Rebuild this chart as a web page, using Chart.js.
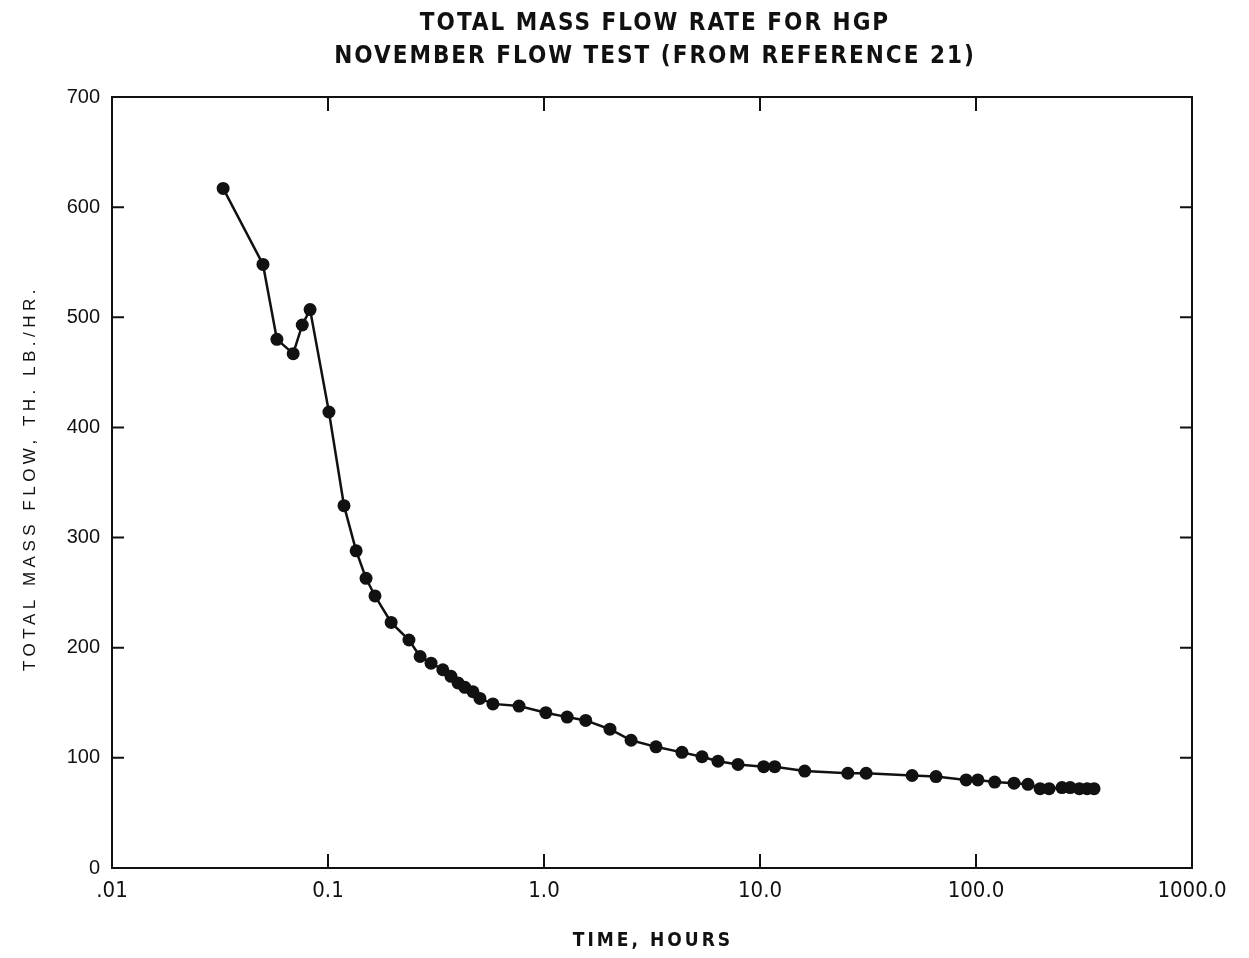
<!DOCTYPE html>
<html>
<head>
<meta charset="utf-8">
<title>Total Mass Flow Rate for HGP</title>
<script src="https://cdn.jsdelivr.net/npm/chart.js@4.4.1/dist/chart.umd.min.js"></script>
<style>
  html, body { margin: 0; padding: 0; background: #ffffff; }
  #wrap { width: 1249px; height: 958px; position: relative; }
</style>
</head>
<body>
<div id="wrap"><canvas id="flowChart"></canvas></div>
<script>
// hours since start of flow
const timeHours = [
  0.0327, 0.050, 0.058, 0.069, 0.076, 0.0826, 0.101, 0.1186, 0.135, 0.150,
  0.165, 0.196, 0.237, 0.267, 0.300, 0.340, 0.371, 0.400, 0.430, 0.469,
  0.505, 0.580, 0.766, 1.02, 1.28, 1.56, 2.02, 2.53, 3.30, 4.35,
  5.39, 6.39, 7.91, 10.4, 11.7, 16.1, 25.5, 31.0, 50.6, 65.3,
  90, 102, 122, 150, 174, 198, 218, 250, 273, 301,
  327, 352
];
// total mass flow, thousand lb/hr
const massFlow = [
  617, 548, 480, 467, 493, 507, 414, 329, 288, 263,
  247, 223, 207, 192, 186, 180, 174, 168, 164, 160,
  154, 149, 147, 141, 137, 134, 126, 116, 110, 105,
  101, 97, 94, 92, 92, 88, 86, 86, 84, 83,
  80, 80, 78, 77, 76, 72, 72, 73, 73, 72,
  72, 72
];
const xTickValues = [0.01, 0.1, 1, 10, 100, 1000];
const xTickLabels = ['.01', '0.1', '1.0', '10.0', '100.0', '1000.0'];
const titleLines = ['TOTAL MASS FLOW RATE FOR HGP', 'NOVEMBER FLOW TEST (FROM REFERENCE 21)'];
const xAxisTitle = 'TIME, HOURS';
const yAxisTitle = 'TOTAL MASS FLOW, TH. LB./HR.';

(function () {
  const canvas = document.getElementById('flowChart');
  const ink = '#111111';

  const points = timeHours.map(function (t, i) {
    return { x: t, y: massFlow[i] };
  });

  // frame, inward ticks and the hand lettered texts
  const plotDecor = {
    id: 'plotDecor',
    afterDraw(chart) {
      const { ctx, chartArea } = chart;
      const xScale = chart.scales.x;
      const yScale = chart.scales.y;

      ctx.save();
      ctx.strokeStyle = ink;
      ctx.lineWidth = 2;
      ctx.strokeRect(chartArea.left, chartArea.top, chartArea.right - chartArea.left, chartArea.bottom - chartArea.top);

      ctx.beginPath();
      xTickValues.slice(1, -1).forEach(function (v) {
        const x = xScale.getPixelForValue(v);
        ctx.moveTo(x, chartArea.bottom);
        ctx.lineTo(x, chartArea.bottom - 14);
        ctx.moveTo(x, chartArea.top);
        ctx.lineTo(x, chartArea.top + 14);
      });
      for (let v = 100; v < 700; v += 100) {
        const y = yScale.getPixelForValue(v);
        ctx.moveTo(chartArea.left, y);
        ctx.lineTo(chartArea.left + 12, y);
        ctx.moveTo(chartArea.right, y);
        ctx.lineTo(chartArea.right - 12, y);
      }
      ctx.stroke();

      ctx.fillStyle = ink;
      ctx.textAlign = 'center';
      ctx.textBaseline = 'middle';
      ctx.font = '600 24px "Liberation Sans Narrow", "DejaVu Sans Condensed", sans-serif';
      ctx.letterSpacing = '2px';
      ctx.fillText(titleLines[0], 655, 24);
      ctx.fillText(titleLines[1], 655, 57);

      ctx.font = 'bold 19px "Liberation Sans Narrow", "DejaVu Sans Condensed", sans-serif';
      ctx.letterSpacing = '3px';
      ctx.fillText(xAxisTitle, 653, 941);

      ctx.translate(30, 478);
      ctx.rotate(-Math.PI / 2);
      ctx.font = '17px "Liberation Sans", Arial, sans-serif';
      ctx.letterSpacing = '4.5px';
      ctx.fillText(yAxisTitle, 0, 0);
      ctx.restore();
    }
  };

  new Chart(canvas.getContext('2d'), {
    type: 'scatter',
    plugins: [plotDecor],
    data: {
      datasets: [
        {
          data: points,
          showLine: true,
          borderColor: ink,
          borderWidth: 2.5,
          backgroundColor: ink,
          pointRadius: 6.5,
          pointHoverRadius: 6.5,
          pointBackgroundColor: ink,
          pointBorderWidth: 0
        }
      ]
    },
    options: {
      responsive: true,
      maintainAspectRatio: false,
      animation: false,
      layout: {
        padding: { left: 0, top: 97, right: 57, bottom: 0 }
      },
      plugins: {
        legend: { display: false },
        tooltip: { enabled: false },
        title: { display: false }
      },
      scales: {
        x: {
          type: 'logarithmic',
          min: 0.01,
          max: 1000,
          afterFit(scale) {
            scale.height = 90;
          },
          afterBuildTicks(scale) {
            scale.ticks = xTickValues.map(function (v) {
              return { value: v, major: true };
            });
          },
          grid: { display: false, drawTicks: false },
          border: { display: false },
          ticks: {
            padding: 10,
            autoSkip: false,
            maxRotation: 0,
            color: ink,
            font: { family: '"Liberation Sans Narrow", "DejaVu Sans Condensed", sans-serif', size: 22 },
            callback(value) {
              const i = xTickValues.indexOf(value);
              return i >= 0 ? xTickLabels[i] : '';
            }
          }
        },
        y: {
          type: 'linear',
          min: 0,
          max: 700,
          afterFit(scale) {
            scale.width = 112;
          },
          grid: { display: false, drawTicks: false },
          border: { display: false },
          ticks: {
            stepSize: 100,
            padding: 12,
            color: ink,
            font: { family: '"Liberation Sans", Arial, sans-serif', size: 20 }
          }
        }
      }
    }
  });
})();
</script>
</body>
</html>
